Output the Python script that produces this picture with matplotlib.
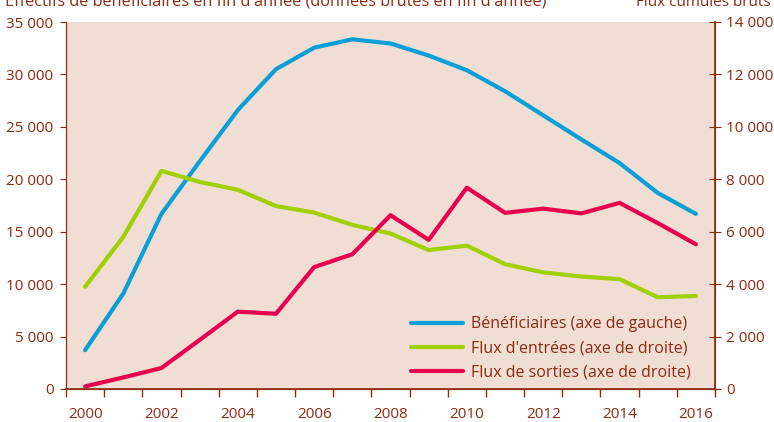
import matplotlib
matplotlib.use("Agg")
import matplotlib.pyplot as plt
from matplotlib.ticker import FuncFormatter, FixedLocator
import numpy as np

# data
years = list(range(2000, 2017))
beneficiaires = [3700, 9100, 16700, 21700, 26600, 30500, 32550, 33350, 32950,
                 31800, 30400, 28400, 26100, 23800, 21550, 18700, 16700]
flux_entrees = [3900, 5800, 8320, 7900, 7600, 6980, 6730, 6260, 5930,
                5300, 5470, 4760, 4450, 4290, 4190, 3500, 3550]
flux_sorties = [100, 440, 800, 1870, 2950, 2870, 4650, 5140, 6630,
                5690, 7680, 6720, 6880, 6700, 7100, 6330, 5520]

left_title = "Effectifs de bénéficiaires en fin d'année (données brutes en fin d'année)"
right_title = "Flux cumulés bruts"
legend_labels = ["Bénéficiaires (axe de gauche)",
                 "Flux d'entrées (axe de droite)",
                 "Flux de sorties (axe de droite)"]

BROWN = "#8e2a10"
BG = "#f0ded5"
BLUE = "#0a9fd6"
GREEN = "#a0d000"
RED = "#e8004c"

plt.rcParams["font.family"] = ["Open Sans", "DejaVu Sans"]
plt.rcParams["font.size"] = 11


def fmt_thousands(v, pos):
    return f"{int(v):,}".replace(",", " ")


fig = plt.figure(figsize=(7.74, 4.22), dpi=100)
ax = fig.add_axes([66 / 774, 1 - 389 / 422, (715 - 66) / 774, (389 - 22) / 422])
ax.set_facecolor(BG)
ax2 = ax.twinx()

x = np.arange(len(years))
l1, = ax.plot(x, beneficiaires, color=BLUE, lw=3, solid_capstyle="round")
l2, = ax2.plot(x, flux_entrees, color=GREEN, lw=3, solid_capstyle="round")
l3, = ax2.plot(x, flux_sorties, color=RED, lw=3, solid_capstyle="round")

ax.set_xlim(-0.5, len(years) - 0.5)
ax.set_ylim(0, 35000)
ax2.set_ylim(0, 14000)
ax.set_yticks(np.arange(0, 35001, 5000))
ax2.set_yticks(np.arange(0, 14001, 2000))
ax.yaxis.set_major_formatter(FuncFormatter(fmt_thousands))
ax2.yaxis.set_major_formatter(FuncFormatter(fmt_thousands))

# ticks between categories, labels on even years
ax.xaxis.set_major_locator(FixedLocator(np.arange(-0.5, len(years), 1.0)))
ax.xaxis.set_major_formatter(FuncFormatter(lambda v, p: ""))
ax.xaxis.set_minor_locator(FixedLocator(x[::2]))
ax.set_xticklabels([str(y) for y in years[::2]], minor=True)
ax.tick_params(axis="x", which="major", direction="out", length=6, color=BROWN, width=1)
ax.tick_params(axis="x", which="minor", length=0, pad=13, labelcolor=BROWN)

ax.tick_params(axis="y", direction="out", length=4, color=BROWN, labelcolor=BROWN, pad=5)
ax2.tick_params(axis="y", direction="inout", length=8, color=BROWN, labelcolor=BROWN, pad=4)

for a in (ax, ax2):
    a.spines["top"].set_visible(False)
    for s in ("left", "right", "bottom"):
        a.spines[s].set_color(BROWN)
ax.spines["left"].set_linewidth(0.8)
ax2.spines["right"].set_linewidth(1.2)
ax.spines["bottom"].set_linewidth(1.2)

leg = ax2.legend([l1, l2, l3], legend_labels, loc="lower right",
                 bbox_to_anchor=(0.963, 0.022), frameon=False, borderpad=0,
                 borderaxespad=0, fontsize=11.5, handlelength=3.3,
                 handletextpad=0.5, labelspacing=0.52)
for t in leg.get_texts():
    t.set_color(BROWN)

fig.text(5 / 774, 1 - 6 / 422, left_title, color=BROWN, ha="left", va="baseline",
         fontsize=11.7)
fig.text(771 / 774, 1 - 6 / 422, right_title, color=BROWN, ha="right", va="baseline",
         fontsize=11)

fig.savefig("out.png", dpi=100)
